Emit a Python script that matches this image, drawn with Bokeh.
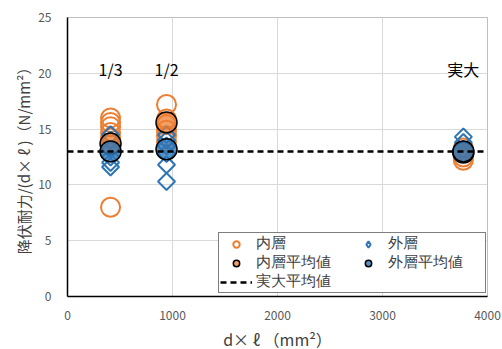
import math
from bokeh.plotting import figure
from bokeh.models import Legend, LegendItem, Range1d, FixedTicker, Label
from bokeh.embed import file_html
from bokeh.resources import INLINE

# data
inner_x = [410, 410, 410, 410, 410, 410, 410,
           943, 943, 943, 943, 943, 943,
           3770, 3770, 3770, 3770]
inner_y = [16.0, 15.6, 15.2, 14.7, 14.2, 13.6, 8.0,
           17.2, 15.9, 15.4, 14.9, 14.4, 13.9,
           13.3, 12.9, 12.5, 12.2]
outer_x = [410, 410, 410, 410, 410, 410,
           943, 943, 943, 943, 943, 943,
           3770, 3770, 3770, 3770]
outer_y = [14.5, 14.0, 13.2, 12.5, 12.0, 11.6,
           14.5, 14.0, 13.5, 12.8, 11.8, 10.3,
           14.3, 13.8, 13.2, 12.8]
inner_avg_x = [410, 943, 3770]
inner_avg_y = [13.7, 15.6, 12.9]
outer_avg_x = [410, 943, 3770]
outer_avg_y = [13.0, 13.2, 13.0]
full_avg = 13.0
size_labels = ["1/3", "1/2", "実大"]
size_label_x = [410, 943, 3770]
size_label_y = 20.4
x_ticks = [0, 1000, 2000, 3000, 4000]
y_ticks = [0, 5, 10, 15, 20, 25]

FONT = "Noto Sans CJK JP"
ORANGE = "#ED7D31"
BLUE = "#2E75B6"

p = figure(frame_width=420, frame_height=279, output_backend="svg", toolbar_location=None,
           x_range=Range1d(0, 4000), y_range=Range1d(0, 25),
           min_border_left=67, min_border_right=15, min_border_top=17, min_border_bottom=53)
p.outline_line_color = "#BFBFBF"

p.xaxis.ticker = FixedTicker(ticks=x_ticks)
p.yaxis.ticker = FixedTicker(ticks=y_ticks)
for ax in (p.xaxis[0], p.yaxis[0]):
    ax.axis_line_color = "black"
    ax.axis_line_width = 1.5
    ax.major_tick_line_color = None
    ax.minor_tick_line_color = None
    ax.major_label_text_font = FONT
    ax.major_label_text_font_size = "12px"
    ax.major_label_text_color = "#595959"
    ax.axis_label_text_font = FONT
    ax.axis_label_text_font_style = "normal"
    ax.axis_label_text_color = "#404040"
p.xaxis.axis_label = "d× ℓ （mm²）"
p.yaxis.axis_label = "降伏耐力/(d× ℓ )（N/mm²）"
p.xaxis.axis_label_text_font_size = "16px"
p.yaxis.axis_label_text_font_size = "15px"
p.xaxis.axis_label_standoff = 4
p.yaxis.axis_label_standoff = 1
p.xaxis.major_label_standoff = 8
p.yaxis.major_label_standoff = 10
p.grid.grid_line_color = "#D9D9D9"

r_line = p.line(x=[0, 4000], y=[full_avg, full_avg], line_color="black",
                line_width=2.5, line_dash="6 4")

r_in = p.scatter(inner_x, inner_y, marker="circle", size=19, fill_color=None,
                 line_color=ORANGE, line_width=2)
r_out = p.scatter(outer_x, outer_y, marker="square", size=12, angle=math.pi / 4,
                  fill_color=None, line_color=BLUE, line_width=2)
# legend-only renderer (not drawn: NaN position) so the legend shows a diamond
r_out_leg = p.scatter(x=[math.nan], y=[math.nan], marker="diamond", size=12,
                      fill_color=None, line_color=BLUE, line_width=2)
r_in_avg = p.scatter(inner_avg_x, inner_avg_y, marker="circle", size=21,
                     fill_color=ORANGE, fill_alpha=0.75, line_color="black", line_width=1.5)
r_out_avg = p.scatter(outer_avg_x, outer_avg_y, marker="circle", size=21,
                      fill_color="#2E75B6", fill_alpha=0.8, line_color="black", line_width=1.5)
p.renderers.remove(r_line)
p.renderers.append(r_line)

for t, x in zip(size_labels, size_label_x):
    p.add_layout(Label(x=x, y=size_label_y, text=t, text_font=FONT, text_font_size="16px",
                       text_color="black", text_align="center", text_baseline="middle"))

legend = Legend(items=[
    LegendItem(label="内層", renderers=[r_in]),
    LegendItem(label="外層", renderers=[r_out_leg]),
    LegendItem(label="内層平均値", renderers=[r_in_avg]),
    LegendItem(label="外層平均値", renderers=[r_out_avg]),
    LegendItem(label="実大平均値", renderers=[r_line]),
], location=(151, 3), ncols=2, orientation="horizontal")
legend.label_text_font = "Liberation Sans"
legend.label_text_font_size = "15px"
legend.label_text_color = "#404040"
legend.border_line_color = "black"
legend.border_line_width = 1
legend.spacing = 0
legend.padding = 1
legend.margin = 0
legend.glyph_height = 16
legend.glyph_width = 32
legend.label_height = 16
legend.label_width = 96
legend.label_standoff = 4
legend.background_fill_color = "white"
legend.background_fill_alpha = 1
p.add_layout(legend)

open("out.html", "w").write(file_html(p, INLINE))
